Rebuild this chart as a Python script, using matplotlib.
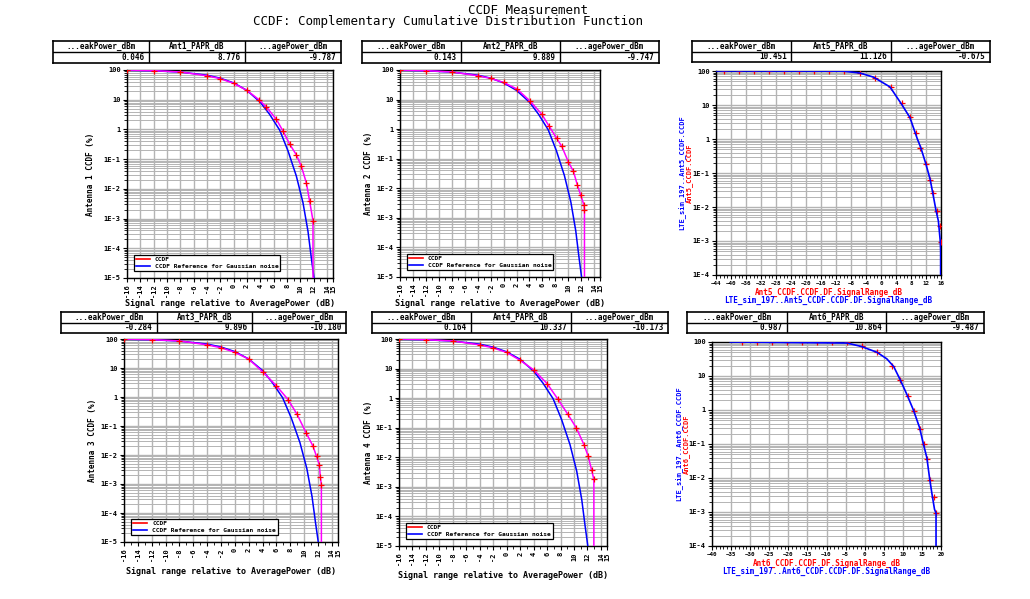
import math
import matplotlib
matplotlib.use("Agg")
import matplotlib.pyplot as plt
from matplotlib.ticker import FixedLocator, FuncFormatter, MultipleLocator, LogLocator, NullFormatter
from matplotlib.lines import Line2D

W, H = 1030, 599
FONT = "DejaVu Sans Mono"
MAG = "#ff00ff"
RED = "#ff0000"
BLUE = "#0000ff"
GRID = "#b4b4b4"

# ---- data ----
# gaussian reference (blue), same in the four antenna plots
gauss_x = [-16, -12, -8, -4, -2, 0, 2, 4, 5.4, 6.9, 8.15, 9.4, 10.4, 11.15, 11.65, 12.05]
gauss_y = [98, 94, 85, 67, 53, 36.8, 20.5, 8.2, 3.2, 0.95, 0.19, 0.027, 0.0034, 0.00037, 0.000047, 0.00001]

# measured CCDF (magenta)
ant1_x = [-16, -12, -8, -4, -2, 0, 2, 3.8, 4.9, 6.4, 7.4, 8.4, 9.4, 10.15, 10.9, 11.4, 11.9, 11.9]
ant1_y = [100, 95, 86, 64, 51, 35.5, 20.5, 10, 5.7, 2.2, 0.88, 0.32, 0.14, 0.058, 0.016, 0.0038, 0.00085, 1e-5]
ant2_x = [-16, -12, -8, -4, -2, 0, 2.06, 4.1, 5.9, 7.0, 8.2, 9.0, 10.0, 10.8, 11.4, 11.9, 12.4, 12.5, 12.5]
ant2_y = [100, 95, 86, 64, 52, 38, 22.9, 8.9, 3.2, 1.3, 0.49, 0.26, 0.079, 0.037, 0.013, 0.006, 0.0028, 0.0019, 1e-5]
ant3_x = [-16, -12, -8, -4, -2, 0, 2, 4.1, 6.0, 7.7, 9.0, 10.3, 11.3, 11.8, 12.2, 12.35, 12.5, 12.5]
ant3_y = [100, 95, 86, 63, 50, 34.7, 20.4, 7.1, 2.45, 0.81, 0.25, 0.058, 0.02, 0.0089, 0.0047, 0.0018, 0.00095, 1e-5]
ant4_x = [-16, -12, -8, -4, -2, 0, 2, 4, 6, 7.6, 9.1, 10.35, 11.5, 12.1, 12.6, 12.95, 12.95]
ant4_y = [100, 95, 86, 63, 50, 35, 19, 9.1, 3.1, 0.93, 0.28, 0.098, 0.026, 0.011, 0.0038, 0.0018, 1e-5]

# Ant5 / Ant6: simulated (blue line) and marker samples (red)
ant5_x = [-44, -10, -5.6, -2, 2.4, 5.5, 7.7, 9.7, 10.6, 12.0, 13.1, 13.8, 14.7, 15.3, 15.8, 15.9, 15.9]
ant5_y = [100, 99, 87, 66, 34, 10.5, 4.3, 1.0, 0.56, 0.18, 0.065, 0.026, 0.0076, 0.0039, 0.001, 0.0005, 1e-4]
ant5_mx = [-42, -37.8, -33.9, -29.8, -25.8, -21.8, -17.8, -13.8, -9.9, -5.6, -1.6, 2.6, 5.5, 7.6, 9.3, 10.4, 11.9, 13.1, 13.8, 14.8, 15.7, 16.0]
ant5_my = [100, 100, 100, 100, 100, 100, 100, 100, 99, 87, 63, 34, 11.7, 4.5, 1.55, 0.56, 0.18, 0.063, 0.026, 0.0076, 0.0028, 0.00095]
ant6_x = [-35.2, -4.6, -0.9, 3.2, 5.8, 7.6, 9.3, 11.1, 12.8, 14.4, 15.3, 16.3, 17.0, 17.6, 18.3, 18.7, 18.7]
ant6_y = [100, 93, 74, 50, 32, 19, 7.8, 2.8, 0.98, 0.3, 0.11, 0.039, 0.01, 0.0036, 0.0012, 0.00093, 1e-4]
ant6_mx = [-32.1, -28.2, -24.3, -20.3, -16.4, -12.5, -8.6, -4.6, -0.7, 3.2, 7.2, 9.3, 11.3, 12.8, 14.4, 15.5, 16.3, 17.2, 18.1, 18.8]
ant6_my = [100, 100, 100, 100, 100, 100, 100, 97, 74, 50, 20, 7.4, 2.6, 0.91, 0.28, 0.1, 0.037, 0.0089, 0.0028, 0.00093]

tables = [
    ("Ant1_PAPR_dB", ["0.046", "8.776", "-9.787"]),
    ("Ant2_PAPR_dB", ["0.143", "9.889", "-9.747"]),
    ("Ant5_PAPR_dB", ["10.451", "11.126", "-0.675"]),
    ("Ant3_PAPR_dB", ["-0.284", "9.896", "-10.180"]),
    ("Ant4_PAPR_dB", ["0.164", "10.337", "-10.173"]),
    ("Ant6_PAPR_dB", ["0.987", "10.864", "-9.487"]),
]
left_ticks = [-16, -14, -12, -10, -8, -6, -4, -2, 0, 2, 4, 6, 8, 10, 12, 14, 14.9]
left_ticklabels = ["-16", "-14", "-12", "-10", "-8", "-6", "-4", "-2", "0", "2", "4", "6", "8", "10", "12", "14", "15"]


def frac(x0, y0, x1, y1):
    return [x0 / W, 1 - y1 / H, (x1 - x0) / W, (y1 - y0) / H]


def ylab(v, pos):
    if v >= 100:
        return "100"
    if v >= 10:
        return "10"
    if v >= 1:
        return "1"
    return "1E%d" % int(round(math.log10(v)))


fig = plt.figure(figsize=(W / 100, H / 100), dpi=100)
fig.text(528 / W, 1 - 10 / H, "CCDF Measurement", ha="center", va="center", fontsize=9, family=FONT)
fig.text(448 / W, 1 - 22 / H, "CCDF: Complementary Cumulative Distribution Function",
         ha="center", va="center", fontsize=9, family=FONT)


def draw_table(box, dividers, header, values):
    x0, y0, x1, y1 = box
    ax = fig.add_axes(frac(x0, y0, x1, y1))
    ax.set_xlim(x0, x1)
    ax.set_ylim(y1, y0)
    ax.set_xticks([])
    ax.set_yticks([])
    for s in ax.spines.values():
        s.set_linewidth(1.2)
    ym = (y0 + y1) / 2
    ax.axhline(ym, color="black", lw=1)
    for d in dividers:
        ax.axvline(d, color="black", lw=1)
    cols = [x0] + dividers + [x1]
    heads = ["...eakPower_dBm", header, "...agePower_dBm"]
    for i in range(3):
        ax.text((cols[i] + cols[i + 1]) / 2, (y0 + ym) / 2, heads[i], ha="center", va="center",
                fontsize=5.5, family=FONT, fontweight="bold")
        ax.text(cols[i + 1] - 4, (ym + y1) / 2, values[i], ha="right", va="center",
                fontsize=5.5, family=FONT, fontweight="bold")


def style_axes(ax, ymin, xsize):
    ax.set_yscale("log")
    ax.set_ylim(ymin, 100)
    ax.yaxis.set_major_locator(LogLocator(base=10, numticks=12))
    ax.yaxis.set_minor_locator(LogLocator(base=10, subs=range(2, 10), numticks=12))
    ax.yaxis.set_minor_formatter(NullFormatter())
    ax.yaxis.set_major_formatter(FuncFormatter(ylab))
    ax.grid(True, which="major", color=GRID, lw=1.0)
    ax.grid(True, which="minor", axis="y", color=GRID, lw=0.7)
    ax.tick_params(which="major", direction="out", length=3, labelsize=5, width=0.8, pad=1.5)
    ax.tick_params(axis="x", labelsize=xsize)
    ax.tick_params(which="minor", direction="out", length=2, width=0.6)
    for lab in ax.get_yticklabels() + ax.get_xticklabels():
        lab.set_family(FONT)
        lab.set_fontweight("bold")
    for s in ax.spines.values():
        s.set_linewidth(1.0)


left_panels = [
    ((127, 70, 333, 278), (53, 41, 341, 63), [149, 245], 0, ant1_x, ant1_y, "Antenna 1 CCDF (%)", 90, 303),
    ((400, 70, 600, 277), (362, 41, 659, 63), [461, 560], 1, ant2_x, ant2_y, "Antenna 2 CCDF (%)", 368, 303),
    ((124, 339, 338, 542), (61, 312, 346, 333), [157, 252], 3, ant3_x, ant3_y, "Antenna 3 CCDF (%)", 92, 572),
    ((399, 339, 607, 546), (372, 312, 668, 333), [471, 571], 4, ant4_x, ant4_y, "Antenna 4 CCDF (%)", 368, 575),
]

for box, tbox, divs, ti, mx, my, ytxt, ylx, xly in left_panels:
    draw_table(tbox, divs, tables[ti][0], tables[ti][1])
    ax = fig.add_axes(frac(*box))
    ax.plot(gauss_x, gauss_y, color=BLUE, lw=1.1, zorder=3)
    ax.plot(mx, my, color=MAG, lw=1.1, zorder=4)
    ax.plot(mx[:-1], my[:-1], ls="none", marker="+", color=RED, ms=4, mew=0.9, zorder=5)
    ax.set_xlim(-16, 14.9)
    ax.xaxis.set_major_locator(FixedLocator(left_ticks))
    ax.set_xticklabels(left_ticklabels, rotation=90)
    ax.xaxis.set_minor_locator(MultipleLocator(1))
    style_axes(ax, 1e-5, 5)
    handles = [Line2D([], [], color=RED, lw=1.2), Line2D([], [], color=BLUE, lw=1.2)]
    leg = ax.legend(handles, ["CCDF", "CCDF Reference for Gaussian noise"], loc="lower left",
                    bbox_to_anchor=(0.02, 0.02),
                    prop={"family": FONT, "size": 4.5, "weight": "bold"}, handlelength=2.2,
                    borderpad=0.3, labelspacing=0.2, fancybox=False, framealpha=1, edgecolor="black")
    leg.get_frame().set_linewidth(0.9)
    fig.text(ylx / W, 1 - (box[1] + box[3]) / 2 / H, ytxt, rotation=90, ha="center", va="center",
             fontsize=5.5, family=FONT, fontweight="bold")
    fig.text((box[0] + box[2]) / 2 / W, 1 - xly / H, "Signal range relative to AveragePower (dB)",
             ha="center", va="center", fontsize=6, family=FONT, fontweight="bold")

right_panels = [
    ((716, 71, 941, 275), (692, 41, 990, 62), [791, 891], 2, ant5_x, ant5_y, ant5_mx, ant5_my,
     (-44, 16), list(range(-44, 17, 4)), "Ant5", 292, 686),
    ((712, 342, 941, 546), (687, 312, 984, 333), [787, 886], 5, ant6_x, ant6_y, ant6_mx, ant6_my,
     (-40, 20), list(range(-40, 21, 5)), "Ant6", 563, 683),
]

for box, tbox, divs, ti, bx, by, rx, ry, xl, xt, name, xly, ylx in right_panels:
    draw_table(tbox, divs, tables[ti][0], tables[ti][1])
    ax = fig.add_axes(frac(*box))
    ax.plot(rx, ry, ls="none", marker="+", color=RED, ms=4, mew=0.9, zorder=3)
    ax.plot(bx, by, color=BLUE, lw=1.2, zorder=4)
    ax.set_xlim(*xl)
    ax.xaxis.set_major_locator(FixedLocator(xt))
    ax.xaxis.set_minor_locator(MultipleLocator(1))
    style_axes(ax, 1e-4, 4.2)
    cy = 1 - (box[1] + box[3]) / 2 / H
    fig.text((ylx + 3) / W, cy, name + "_CCDF.CCDF", rotation=90, ha="center", va="center",
             fontsize=5, family=FONT, fontweight="bold", color=RED)
    fig.text((ylx - 4) / W, cy, "LTE_sim_197.." + name + "_CCDF.CCDF", rotation=90, ha="center",
             va="center", fontsize=5, family=FONT, fontweight="bold", color=BLUE)
    cx = (box[0] + box[2]) / 2 / W
    fig.text(cx, 1 - xly / H, name + "_CCDF.CCDF.DF.SignalRange_dB", ha="center", va="center",
             fontsize=5.5, family=FONT, fontweight="bold", color=RED)
    fig.text(cx, 1 - (xly + 8) / H, "LTE_sim_197.." + name + "_CCDF.CCDF.DF.SignalRange_dB",
             ha="center", va="center", fontsize=5.5, family=FONT, fontweight="bold", color=BLUE)

fig.savefig("out.png", dpi=100)
